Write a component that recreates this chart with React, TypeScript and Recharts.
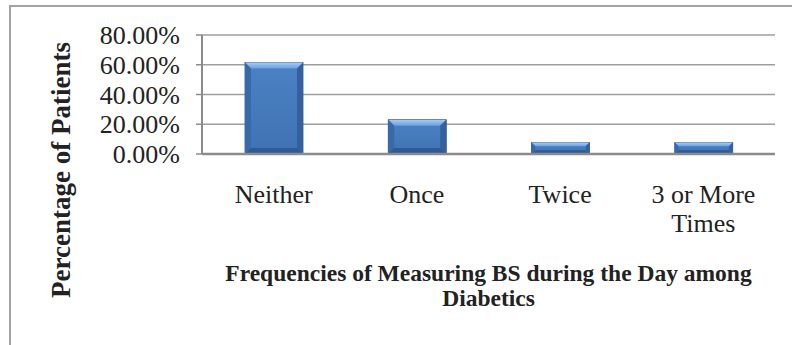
import { BarChart, Bar, XAxis, YAxis, CartesianGrid, Label } from 'recharts';

const categories = ['Neither', 'Once', 'Twice', '3 or More Times'];
const percentages = [61.5, 23.1, 7.7, 7.7];
const yTicks = [0, 20, 40, 60, 80];

const chartData = categories.map((name, i) => ({ name, value: percentages[i] }));

const serif = '"Liberation Serif", "Times New Roman", serif';

// wrap a label into lines of at most maxChars characters
function wrapWords(label: string, maxChars: number) {
  const lines: string[] = [];
  let cur = '';
  label.split(' ').forEach((w) => {
    const next = cur ? cur + ' ' + w : w;
    if (next.length > maxChars && cur) {
      lines.push(cur);
      cur = w;
    } else {
      cur = next;
    }
  });
  if (cur) lines.push(cur);
  return lines;
}

function BevelBar(props: any) {
  const { x, y, width, height } = props;
  if (!height || height <= 0) return null;
  const b = Math.min(6, height / 3);
  return (
    <g>
      <rect x={x} y={y} width={width} height={height} fill="url(#barFace)" stroke="#2b568f" strokeWidth={0.8} />
      <polygon
        points={`${x},${y} ${x + width},${y} ${x + width - b},${y + b} ${x + b},${y + b}`}
        fill="url(#barTop)"
      />
      <polygon
        points={`${x},${y} ${x + b},${y + b} ${x + b},${y + height - b} ${x},${y + height}`}
        fill="#3869a8"
      />
      <polygon
        points={`${x + width},${y} ${x + width - b},${y + b} ${x + width - b},${y + height - b} ${x + width},${y + height}`}
        fill="#33619e"
      />
      <polygon
        points={`${x},${y + height} ${x + b},${y + height - b} ${x + width - b},${y + height - b} ${x + width},${y + height}`}
        fill="#2e5b96"
      />
    </g>
  );
}

function CategoryTick(props: any) {
  const { x, y, payload } = props;
  const lines = wrapWords(String(payload.value), 10);
  return (
    <text textAnchor="middle" fontSize={26} fontFamily={serif} fill="#222">
      {lines.map((line, i) => (
        <tspan key={i} x={x} y={y + 49 + i * 29}>
          {line}
        </tspan>
      ))}
    </text>
  );
}

function XTitle(props: any) {
  const { viewBox } = props;
  const cx = viewBox.x + viewBox.width / 2;
  return (
    <text textAnchor="middle" fontFamily={serif} fontWeight="bold" fontSize={23.5} fill="#222">
      <tspan x={cx} y={281}>Frequencies of Measuring BS during the Day among</tspan>
      <tspan x={cx} y={306}>Diabetics</tspan>
    </text>
  );
}

function YTitle() {
  return (
    <text
      x={61}
      y={170}
      transform="rotate(-90 61 170)"
      textAnchor="middle"
      dominantBaseline="central"
      fontFamily={serif}
      fontWeight="bold"
      fontSize={27}
      fill="#222"
    >
      Percentage of Patients
    </text>
  );
}

export default function App() {
  return (
    <div style={{ position: 'fixed', left: 0, top: 0, width: 792, height: 345, overflow: 'hidden', background: '#fff' }}>
      <div
        style={{
          position: 'absolute',
          left: 9,
          top: 5,
          width: 820,
          height: 400,
          border: '2px solid #a3a3a3',
        }}
      />
      <div style={{ position: 'absolute', left: 0, top: 0 }}>
        <BarChart
          width={792}
          height={345}
          data={chartData}
          margin={{ top: 35, right: 17, left: 0, bottom: 0 }}
        >
          <defs>
            <linearGradient id="barFace" x1="0" y1="0" x2="0" y2="1">
              <stop offset="0%" stopColor="#4b82c4" />
              <stop offset="100%" stopColor="#3f72b2" />
            </linearGradient>
            <linearGradient id="barTop" x1="0" y1="0" x2="0" y2="1">
              <stop offset="0%" stopColor="#a9cdf2" />
              <stop offset="100%" stopColor="#6b9fdc" />
            </linearGradient>
          </defs>
          <CartesianGrid vertical={false} stroke="#9f9f9f" strokeWidth={1.5} />
          <XAxis
            dataKey="name"
            height={191}
            interval={0}
            tickLine={false}
            tickSize={0}
            tickMargin={0}
            axisLine={{ stroke: '#8c8c8c', strokeWidth: 2.5 }}
            tick={<CategoryTick />}
          >
            <Label content={<XTitle />} />
          </XAxis>
          <YAxis
            width={202}
            domain={[0, 80]}
            ticks={yTicks}
            interval={0}
            tickSize={6}
            tickMargin={16}
            tickFormatter={(v: number) => `${v.toFixed(2)}%`}
            tick={{ fontSize: 26, fontFamily: serif, fill: '#222' }}
            axisLine={{ stroke: '#8c8c8c', strokeWidth: 2 }}
            tickLine={{ stroke: '#8c8c8c', strokeWidth: 1.5 }}
          />
          <Bar dataKey="value" barSize={58} shape={<BevelBar />} isAnimationActive={false} />
          <YTitle />
        </BarChart>
      </div>
    </div>
  );
}
